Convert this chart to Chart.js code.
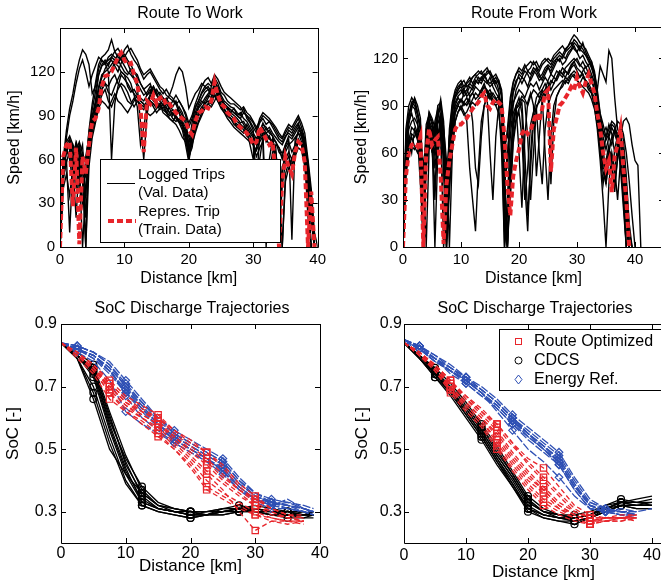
<!DOCTYPE html>
<html lang="en">
<head>
<meta charset="UTF-8">
<title>Route speed profiles and SoC trajectories</title>
<script src="https://cdn.jsdelivr.net/npm/chart.js"></script>
<style>
  body { margin: 0; background: #fff; overflow: hidden; width: 661px; height: 586px; position: relative; }
  canvas { position: absolute; }
  #toWork { left: 0; top: 0; }
  #fromWork { left: 330px; top: 0; }
  #socTo { left: 0; top: 290px; }
  #socFrom { left: 330px; top: 290px; }
</style>
</head>
<body>
<canvas id="toWork" width="330" height="290"></canvas>
<canvas id="fromWork" width="340" height="290"></canvas>
<canvas id="socTo" width="330" height="296"></canvas>
<canvas id="socFrom" width="360" height="296"></canvas>
<script>
// ---- tick labels ----
const distTicks = [0, 10, 20, 30, 40];
const speedTicks = [0, 30, 60, 90, 120];
const socTicks = [0.3, 0.5, 0.7, 0.9];

// ---- speed profiles, route to work (km, km/h) ----
const distTo = [0,0.5,1,1.5,2,2.5,3,3.5,4,4.5, 5,5.5,6,6.5,7,7.5,8,8.5,9,9.5,
  10,10.5,11,11.5,12,12.5,13,13.5,14,14.5, 15,15.5,16,16.5,17,17.5,18,18.5,19,19.5,
  20,20.5,21,21.5,22,22.5,23,23.5,24,24.5, 25,25.5,26,26.5,27,27.5,28,28.5,29,29.5,
  30,30.5,31,31.5,32,32.5,33,33.5,34,34.5, 35,35.5,36,36.5,37,37.5,38,38.5,39,39.5, 40];

const repTo = [0,62,70,72,28,68,2,62,50,70, 86,88,95,110,117,118,120,125,130,133,
  128,125,126,118,112,95,65,100,98,104, 98,102,103,97,98,95,92,90,88,86,
  80,77,86,92,93,96,95,100,113,104, 98,96,92,90,88,84,82,80,78,75,
  70,72,82,78,74,70,72,48,0,45, 62,55,50,65,72,70,58,0,38,0];

const tripTo1 = [0,55,68,60,70,62,40,65,0,72, 90,100,118,125,128,124,130,128,126,130,
  132,128,125,120,118,112,108,110,112,105, 108,104,100,102,98,96,100,94,90,88,
  70,85,95,100,105,108,110,106,112,110, 104,100,98,96,95,92,90,95,88,85,
  80,40,78,85,80,82,78,75,72,70, 75,80,78,82,85,75,70,55,30,0];
const tripTo2 = [0,60,80,95,105,118,128,135,132,125, 105,110,122,128,126,120,60,98,110,118,
  115,112,108,105,102,100,98,96,100,98, 95,98,92,90,88,86,84,80,75,72,
  65,70,78,85,90,95,98,100,105,100, 95,92,88,85,82,80,78,76,74,72,
  70,62,68,72,0,50,65,70,68,60, 65,70,72,75,78,72,65,40,0];
const tripTo3 = [0,45,60,10,55,70,55,0,40,65, 80,92,100,108,112,110,115,118,112,110,
  105,100,98,102,100,96,94,98,100,96, 92,95,98,93,90,92,88,85,80,70,
  58,75,88,95,98,102,105,108,104,100, 96,94,92,90,88,86,84,82,80,76,
  72,5,60,75,78,75,72,68,30,55, 60,65,60,68,74,70,60,45,20,0];
const tripTo4 = [0,50,65,70,60,72,66,50,55,80, 98,112,125,130,132,135,142,134,130,128,
  135,138,132,128,125,120,115,118,120,116, 112,108,105,108,104,102,98,100,96,92,
  85,90,98,104,110,114,116,112,118,115, 110,106,104,102,100,98,96,92,90,88,
  85,80,88,92,90,88,85,82,78,75, 80,84,82,86,90,85,78,60,40,10, 0];
const tripTo5 = [0,58,72,68,50,65,70,58,62,75, 88,98,110,118,120,122,125,128,132,128,
  124,120,118,115,110,85,60,90,105,110, 106,100,102,98,95,90,94,92,86,82,
  75,80,90,96,100,98,102,110,115,108, 102,98,95,92,90,88,85,86,82,78,
  75,70,80,82,78,80,76,60,10,50, 68,72,65,70,80,78,68,50,25,0];
const tripTo6 = [0,40,50,35,55,20,60,45,0,55, 75,85,95,100,98,95,100,105,100,98,
  95,92,96,100,104,100,98,92,90,92, 95,98,94,92,96,100,98,92,85,78,
  60,72,80,86,92,95,98,96,100,105, 102,98,94,92,95,90,88,84,80,70,
  60,68,76,80,72,76,70,65,45,0, 50,58,55,62,68,66,55,35,0];
const tripTo7 = [0,50,75,90,100,112,122,128,120,110, 118,124,130,128,125,130,132,130,128,124,
  120,118,122,120,116,112,108,104,106,110, 104,106,102,100,104,110,118,123,120,110,
  95,100,105,108,112,110,108,104,110,106, 100,98,95,94,92,90,88,92,90,86,
  82,78,85,88,84,86,82,78,74,72, 76,78,76,80,84,80,72,58,35,5];
const tripTo8 = [0,62,70,74,68,40,62,70,35,68, 82,90,102,108,112,106,104,110,115,120,
  118,110,106,108,104,102,100,104,108,102, 100,96,98,95,92,88,86,88,84,76,
  62,68,82,90,94,100,104,102,108,104, 98,95,90,88,86,82,80,78,84,80,
  76,72,74,78,20,60,74,72,65,62, 70,74,5,74,78,76,66,48,22,0];
const tripTo9 = [0,52,66,72,64,58,68,60,20,62, 84,96,108,116,122,126,128,124,120,126,
  130,126,120,116,112,108,104,106,110,108, 104,100,97,100,96,94,92,96,92,84,
  66,80,92,98,102,106,108,104,110,108, 100,98,96,94,92,90,92,88,86,82,
  78,74,80,84,82,78,76,72,68,64, 70,76,74,78,82,78,70,52,28,0];
const tripTo10 = [0,48,58,66,58,70,48,30,58,64, 78,88,98,104,108,100,96,102,108,112,
  110,106,100,96,100,98,96,100,104,100, 98,94,96,92,88,86,90,86,82,74,
  64,76,86,92,96,98,100,98,104,100, 96,92,90,88,84,82,84,80,76,74,
  70,66,72,76,74,70,68,62,40,0, 45,54,60,66,72,70,62,42,18,0];
const tripTo11 = [0,60,72,76,70,66,72,64,58,78, 94,106,118,124,126,128,130,134,136,132,
  130,134,136,132,128,122,118,120,122,118, 114,110,108,104,102,100,104,100,96,90,
  82,88,96,100,106,110,112,110,116,112, 106,104,100,98,98,96,94,96,92,90,
  86,82,86,90,88,86,84,80,76,74, 78,82,80,84,88,82,74,56,32,0];
const tripTo12 = [0,56,66,62,40,60,66,52,48,66, 84,92,104,112,116,118,122,126,124,120,
  118,116,112,104,96,70,82,96,100,98, 96,98,100,96,92,94,90,86,84,80,
  68,74,84,90,94,96,98,102,110,102, 96,94,90,88,86,84,82,82,80,76,
  72,70,78,80,76,74,72,56,5,42, 58,62,56,64,72,70,60,20,0];

// ---- speed profiles, route from work ----
const distFrom = [0,0.5,1,1.5,2,2.5,3,3.5,4,4.5, 5,5.5,6,6.5,7,7.5,8,8.5,9,9.5,
  10,10.5,11,11.5,12,12.5,13,13.5,14,14.5, 15,15.5,16,16.5,17,17.5,18,18.5,19,19.5,
  20,20.5,21,21.5,22,22.5,23,23.5,24,24.5, 25,25.5,26,26.5,27,27.5,28,28.5,29,29.5,
  30,30.5,31,31.5,32,32.5,33,33.5,34,34.5, 35,35.5,36,36.5,37,37.5,38,38.5,39,39.5,
  40,40.5,41];

const repFrom = [0,45,60,65,66,64,70,0,60,75, 65,68,70,45,2,40,55,65,75,78,
  78,80,82,85,88,90,92,96,98,90, 88,92,94,92,90,70,40,20,45,55,
  62,72,75,72,74,80,85,80,88,98, 100,48,75,82,90,92,95,98,102,100,
  108,102,98,105,110,104,98,85,75,60, 50,55,35,58,65,75,50,30,0];

const tripFrom1 = [0,70,85,90,88,80,60,0,70,82, 60,80,88,75,0,20,65,85,95,98,
  100,96,98,102,100,104,108,106,110,105, 102,104,106,100,80,0,30,70,90,100,
  104,108,106,102,108,112,110,106,108,112, 115,110,114,118,120,116,118,122,125,128,
  124,120,122,118,115,110,105,90,75,65, 40,60,70,75,72,68,50,20,0];
const tripFrom2 = [0,60,75,80,82,78,72,20,55,70, 75,50,70,82,60,0,50,78,90,95,
  92,98,100,96,98,102,100,98,102,100, 96,92,90,85,70,40,60,80,92,96,
  100,98,95,100,104,102,105,100,104,108, 105,100,104,108,112,110,114,116,118,120,
  118,115,118,114,116,118,110,100,115,110, 105,125,120,95,75,70,80,82,78,65, 55,52,0];
const tripFrom3 = [0,55,70,60,75,70,40,5,65,78, 70,0,60,80,65,10,40,70,85,90,
  88,92,95,90,94,98,96,100,104,98, 94,98,95,90,60,0,20,55,80,90,
  95,85,40,10,60,85,95,98,100,96, 100,104,108,112,110,108,112,110,114,116,
  112,108,110,104,100,98,92,80,60,40, 55,65,45,62,70,60,35,0];
const tripFrom4 = [0,75,90,95,92,85,78,30,70,85, 80,72,90,92,70,30,75,92,100,104,
  106,102,105,108,104,108,110,112,108,112, 110,106,108,104,95,60,75,95,105,110,
  114,112,116,112,114,118,115,112,116,118, 120,118,122,124,126,128,125,128,132,135,
  133,130,128,126,122,118,112,100,85,78, 70,75,80,78,70,55,30,0];
const tripFrom5 = [0,50,65,72,70,75,65,0,60,72, 68,60,75,70,20,0,45,72,86,90,
  94,90,92,95,98,94,96,100,102,98, 100,96,94,96,88,30,0,40,75,88,
  92,96,94,90,96,100,98,95,100,104, 100,40,80,96,100,104,108,106,110,112,
  110,108,112,115,110,106,100,88,70,55, 45,62,55,35,58,70,62,40,10,0];
const tripFrom6 = [0,65,80,85,78,72,50,10,75,80, 72,30,78,85,50,5,60,80,92,96,
  98,100,96,98,102,106,104,108,106,104, 108,102,98,95,85,10,0,50,85,90,
  60,25,70,92,98,90,45,70,95,100, 106,110,108,106,110,114,112,110,115,118,
  120,116,114,110,112,108,100,92,80,60, 70,78,72,60,72,76,68,45,15,0];
const tripFrom7 = [0,58,78,88,95,90,82,40,78,84, 78,70,84,94,80,40,70,88,96,100,
  104,106,102,104,108,110,106,104,108,110, 112,108,104,106,100,70,50,80,98,104,
  110,108,112,110,106,110,114,110,106,110, 114,112,116,120,118,122,120,124,126,130,
  128,125,130,124,120,115,108,95,82,72, 76,70,65,74,80,78,72,60,42,20, 0];
const tripFrom8 = [0,48,62,70,64,60,68,55,0,62, 74,66,58,72,76,55,0,60,80,86,
  90,86,80,50,30,10,50,80,90,95, 60,30,70,90,92,50,0,35,70,82,
  88,92,60,20,50,80,90,92,96,60, 30,70,90,96,100,102,106,104,108,110,
  106,104,108,106,102,98,90,75,55,30, 0,40,60,50,30,55,45,20,0];
const tripFrom9 = [0,62,82,92,90,84,74,20,66,80, 76,64,82,90,74,20,62,86,96,100,
  102,98,100,104,102,106,104,108,110,106, 104,106,102,98,90,40,55,85,100,106,
  108,104,108,112,110,114,112,108,110,114, 116,114,118,120,122,120,124,126,128,132,
  130,126,124,122,118,114,108,96,80,70, 62,70,76,72,66,58,40,10,0];
const tripFrom10 = [0,52,68,76,74,68,58,0,52,68, 72,58,66,80,62,5,50,76,88,92,
  94,92,90,94,80,50,40,70,90,96, 98,94,92,94,86,20,0,45,78,88,
  90,94,92,70,30,60,88,94,98,100, 102,106,104,108,112,110,108,112,116,118,
  114,112,110,106,104,100,94,82,66,50, 50,62,58,48,64,72,60,38,5,0];
const tripFrom11 = [0,68,84,92,94,86,76,35,72,86, 82,76,86,90,72,35,70,90,98,102,
  104,100,104,106,108,110,112,110,112,114, 110,108,110,106,98,65,70,92,104,110,
  112,110,114,116,118,116,118,114,118,120, 118,116,120,122,124,122,126,128,130,126,
  124,128,126,122,120,116,110,98,84,74, 68,72,78,76,66,50,25,0];
const tripFrom12 = [0,46,58,64,62,66,60,10,50,64, 62,40,62,76,58,0,35,64,80,86,
  88,84,86,90,92,90,94,96,98,94, 96,92,90,92,84,40,10,30,66,80,
  86,70,30,50,78,86,88,60,40,75, 90,96,100,102,104,106,104,108,110,108,
  106,104,102,100,98,94,88,78,64,48, 40,56,50,40,56,66,56,32,0];

// ---- SoC trajectories (km, -) ----
const socDistTo = [0,2.5,5,7.5,10,12.5,15,17.5,20,22.5,25,27.5,30,32.5,35,37.5,39];
const socDistFrom = [0,2.5,5,7.5,10,12.5,15,17.5,20,22.5,25,27.5,30,32.5,35,37.5,40];

const optTo = [
  [.84,.80,.76,.69,.64,.61,.58,.53,.48,.43,.39,.35,.32,.29,.28,.28],
  [.84,.80,.75,.68,.63,.60,.56,.51,.46,.40,.36,.33,.30,.28,.27,.27],
  [.84,.81,.77,.71,.66,.63,.60,.55,.51,.47,.42,.37,.34,.31,.29,.29],
  [.84,.80,.76,.70,.65,.62,.59,.54,.49,.45,.40,.36,.32,.30,.28,.27],
  [.84,.79,.74,.66,.62,.58,.54,.50,.45,.38,.35,.32,.29,.27,.27,.26],
  [.84,.81,.77,.72,.67,.64,.61,.56,.52,.49,.44,.38,.34,.31,.29,.28],
  [.84,.80,.76,.69,.64,.60,.57,.52,.47,.42,.37,.30,.24,.27,.26,.27],
  [.84,.81,.76,.70,.65,.61,.58,.54,.50,.46,.41,.37,.33,.30,.28,.27],
  [.84,.80,.75,.68,.62,.59,.55,.50,.44,.37,.34,.31,.29,.28,.27,.27],
  [.84,.80,.76,.71,.66,.62,.60,.56,.53,.49,.45,.39,.35,.31,.29,.28]
];
const cdcsTo = [
  [.84,.80,.75,.58,.44,.33,.31,.30,.29,.29,.30,.31,.30,.29,.29,.29,.29],
  [.84,.80,.76,.60,.46,.35,.31,.30,.29,.30,.30,.31,.30,.30,.29,.29,.29],
  [.84,.79,.68,.52,.39,.32,.30,.29,.28,.29,.29,.30,.30,.29,.28,.28,.29],
  [.84,.80,.74,.57,.43,.34,.31,.30,.29,.29,.30,.31,.31,.30,.29,.29,.29],
  [.84,.81,.77,.62,.48,.37,.32,.31,.30,.30,.31,.31,.30,.30,.30,.29,.30],
  [.84,.79,.66,.50,.42,.36,.32,.30,.29,.29,.30,.31,.31,.30,.29,.29,.29],
  [.84,.80,.75,.59,.47,.38,.33,.31,.30,.30,.31,.31,.32,.31,.30,.30,.29],
  [.84,.80,.73,.56,.42,.33,.31,.30,.30,.29,.30,.30,.31,.30,.29,.30,.29],
  [.84,.79,.70,.54,.40,.32,.30,.29,.28,.29,.29,.30,.30,.29,.29,.28,.28],
  [.84,.80,.76,.61,.45,.36,.32,.31,.30,.29,.31,.32,.31,.30,.30,.29,.30]
];
const refTo = [
  [.84,.82,.80,.76,.70,.64,.58,.54,.51,.48,.45,.39,.35,.33,.32,.31,.30],
  [.84,.83,.81,.77,.71,.65,.59,.55,.52,.49,.46,.40,.36,.33,.31,.30,.29],
  [.84,.82,.79,.74,.68,.62,.57,.53,.50,.47,.44,.38,.34,.32,.31,.30,.29],
  [.84,.81,.78,.72,.62,.58,.55,.52,.49,.46,.42,.37,.33,.31,.31,.30,.30],
  [.84,.83,.81,.78,.72,.66,.60,.56,.53,.50,.47,.41,.36,.34,.33,.32,.31],
  [.84,.82,.80,.75,.69,.63,.58,.53,.50,.47,.43,.37,.34,.33,.32,.30,.29],
  [.84,.82,.80,.76,.67,.60,.56,.52,.49,.46,.44,.38,.34,.32,.34,.31,.30],
  [.84,.82,.80,.75,.69,.64,.58,.54,.51,.48,.45,.39,.35,.33,.32,.31,.30],
  [.84,.83,.81,.77,.70,.65,.60,.55,.52,.49,.46,.40,.35,.33,.32,.31,.30],
  [.84,.82,.79,.75,.68,.63,.57,.53,.50,.47,.43,.38,.34,.32,.33,.31,.30]
];

const optFrom = [
  [.84,.80,.76,.70,.64,.59,.53,.46,.40,.36,.31,.29,.27,.28,.28,.28],
  [.84,.81,.77,.72,.66,.61,.56,.49,.43,.38,.33,.30,.28,.28,.28,.29],
  [.84,.80,.75,.69,.63,.58,.51,.44,.38,.33,.30,.28,.26,.27,.28,.27],
  [.84,.81,.77,.71,.66,.62,.57,.51,.46,.41,.36,.31,.28,.27,.27,.28],
  [.84,.80,.75,.68,.62,.57,.50,.43,.37,.32,.29,.27,.26,.27,.27,.28],
  [.84,.81,.76,.70,.65,.60,.54,.47,.41,.37,.32,.29,.27,.28,.28,.29],
  [.84,.80,.76,.71,.67,.63,.58,.52,.47,.44,.38,.32,.29,.28,.28,.28],
  [.84,.80,.76,.70,.65,.60,.55,.48,.42,.37,.32,.29,.27,.27,.28,.28],
  [.84,.81,.76,.69,.64,.59,.52,.45,.39,.34,.31,.28,.26,.28,.28,.28],
  [.84,.80,.77,.72,.67,.62,.58,.52,.45,.40,.35,.30,.28,.28,.29,.29]
];
const cdcsFrom = [
  [.84,.79,.74,.69,.62,.55,.47,.40,.32,.29,.28,.28,.29,.31,.33,.32,.32],
  [.84,.80,.75,.70,.64,.57,.49,.42,.34,.30,.29,.28,.29,.31,.33,.33,.34],
  [.84,.79,.73,.67,.60,.53,.45,.38,.30,.28,.27,.27,.28,.30,.32,.31,.31],
  [.84,.80,.75,.69,.63,.56,.48,.41,.33,.30,.29,.28,.29,.32,.34,.33,.33],
  [.84,.79,.73,.68,.61,.54,.46,.38,.31,.28,.27,.26,.28,.30,.32,.32,.32],
  [.84,.80,.76,.71,.65,.58,.51,.43,.35,.31,.29,.29,.30,.32,.33,.34,.35],
  [.84,.79,.74,.68,.62,.55,.47,.39,.31,.29,.28,.27,.28,.30,.32,.32,.32],
  [.84,.80,.74,.69,.63,.56,.48,.41,.33,.30,.28,.28,.29,.31,.33,.32,.33],
  [.84,.79,.74,.68,.61,.54,.46,.39,.31,.29,.28,.27,.28,.31,.33,.33,.32],
  [.84,.80,.75,.70,.64,.57,.50,.42,.34,.30,.29,.28,.29,.31,.32,.31,.31]
];
const refFrom = [
  [.85,.82,.78,.75,.72,.68,.64,.59,.54,.50,.46,.38,.32,.30,.30,.29],
  [.85,.83,.80,.76,.73,.69,.65,.60,.56,.52,.48,.40,.33,.31,.30,.29],
  [.85,.82,.79,.74,.71,.67,.63,.58,.53,.49,.45,.37,.31,.30,.29,.29],
  [.85,.82,.78,.75,.72,.68,.62,.56,.50,.46,.41,.35,.31,.30,.31,.30],
  [.84,.83,.79,.76,.73,.70,.66,.61,.57,.53,.49,.41,.34,.31,.30,.30],
  [.85,.82,.79,.75,.71,.67,.64,.59,.55,.51,.47,.39,.32,.30,.29,.28],
  [.85,.83,.80,.77,.73,.69,.65,.60,.55,.51,.46,.38,.33,.31,.30,.30,.31],
  [.85,.82,.79,.75,.72,.68,.64,.59,.55,.51,.47,.39,.32,.30,.30,.29],
  [.85,.83,.79,.76,.72,.69,.65,.60,.55,.50,.46,.38,.32,.31,.30,.29],
  [.84,.82,.78,.75,.72,.68,.63,.58,.54,.50,.45,.37,.31,.30,.29,.29]
];

// which samples carry a marker (index into the SoC distance grid)
const optMarks = [3, 6, 9, 12];
const cdcsMarks = [2, 5, 8, 11, 14];
const refMarks = [1, 4, 7, 10, 13];

// ---- styling ----
const RED = '#e8252b';
const BLUE = '#2f50b4';
const FONT = '"Liberation Sans", Arial, Helvetica, sans-serif';

Chart.defaults.font.family = FONT;
Chart.defaults.color = '#000';

function drawTripLegend(ctx) {
  ctx.fillStyle = '#fff';
  ctx.fillRect(100, 159, 181, 84);
  ctx.strokeStyle = '#000';
  ctx.lineWidth = 1;
  ctx.strokeRect(100.5, 159.5, 180, 83);
  ctx.beginPath();
  ctx.moveTo(107, 183.5);
  ctx.lineTo(135, 183.5);
  ctx.stroke();
  ctx.strokeStyle = RED;
  ctx.lineWidth = 4;
  ctx.setLineDash([6, 3]);
  ctx.beginPath();
  ctx.moveTo(108, 221);
  ctx.lineTo(136, 221);
  ctx.stroke();
  ctx.setLineDash([]);
  ctx.fillStyle = '#000';
  ctx.font = '15px ' + FONT;
  ctx.textAlign = 'left';
  ctx.textBaseline = 'middle';
  ctx.fillText('Logged Trips', 138, 175);
  ctx.fillText('(Val. Data)', 138, 193);
  ctx.fillText('Repres. Trip', 138, 212);
  ctx.fillText('(Train. Data)', 138, 230);
}

function drawStrategyLegend(ctx) {
  ctx.fillStyle = '#fff';
  ctx.fillRect(169, 39, 200, 62);
  ctx.strokeStyle = '#000';
  ctx.lineWidth = 1;
  ctx.strokeRect(169.5, 39.5, 200, 61);
  ctx.strokeStyle = RED;
  ctx.strokeRect(185.5, 48.5, 6, 6);
  ctx.strokeStyle = '#000';
  ctx.beginPath();
  ctx.arc(188.5, 70.5, 3.5, 0, Math.PI * 2);
  ctx.stroke();
  ctx.strokeStyle = BLUE;
  ctx.beginPath();
  ctx.moveTo(188.5, 85);
  ctx.lineTo(192, 89.5);
  ctx.lineTo(188.5, 94);
  ctx.lineTo(185, 89.5);
  ctx.closePath();
  ctx.stroke();
  ctx.fillStyle = '#000';
  ctx.font = '16px ' + FONT;
  ctx.textAlign = 'left';
  ctx.textBaseline = 'middle';
  ctx.fillText('Route Optimized', 204, 52);
  ctx.fillText('CDCS', 204, 71);
  ctx.fillText('Energy Ref.', 204, 90);
}

const legends = { trips: drawTripLegend, strategies: drawStrategyLegend };

// box around the axes, inward tick marks, panel title and legend
const framePlugin = {
  id: 'frame',
  afterDatasetsDraw(chart, args, opts) {
    const { ctx, chartArea: a, scales: { x, y } } = chart;
    ctx.save();
    ctx.strokeStyle = '#000';
    ctx.lineWidth = 1;
    ctx.beginPath();
    ctx.rect(Math.round(a.left) + 0.5, Math.round(a.top) + 0.5, Math.round(a.width), Math.round(a.height));
    const len = 5;
    x.ticks.forEach(t => {
      const px = Math.round(x.getPixelForValue(t.value)) + 0.5;
      ctx.moveTo(px, a.bottom); ctx.lineTo(px, a.bottom - len);
      ctx.moveTo(px, a.top); ctx.lineTo(px, a.top + len);
    });
    y.ticks.forEach(t => {
      const py = Math.round(y.getPixelForValue(t.value)) + 0.5;
      ctx.moveTo(a.left, py); ctx.lineTo(a.left + len, py);
      ctx.moveTo(a.right, py); ctx.lineTo(a.right - len, py);
    });
    ctx.stroke();
    ctx.fillStyle = '#000';
    ctx.font = '16px ' + FONT;
    ctx.textAlign = 'center';
    ctx.textBaseline = 'middle';
    ctx.fillText(opts.title, opts.titleX, opts.titleY);
    if (opts.legend) legends[opts.legend](ctx);
    ctx.restore();
  }
};

function axis(o) {
  return {
    type: 'linear',
    min: o.min,
    max: o.max,
    grid: { display: false, drawTicks: false },
    border: { display: false },
    afterBuildTicks: s => { s.ticks = o.ticks.map(v => ({ value: v })); },
    afterFit: s => {
      if (o.width) s.width = o.width;
      if (o.height) s.height = o.height;
    },
    ticks: {
      autoSkip: false,
      maxRotation: 0,
      padding: o.tickPad,
      color: '#000',
      font: { size: o.tickSize },
      callback: o.fmt || (v => String(v))
    },
    title: { display: true, text: o.title, color: '#000', font: { size: o.titleSize || 16 }, padding: o.titlePad }
  };
}

function points(dist, arr) {
  return arr.map((v, i) => ({ x: dist[i], y: v }));
}

function speedSets(dist, rep, trips) {
  const sets = [{
    data: points(dist, rep), borderColor: RED, borderWidth: 4, borderDash: [6, 3],
    pointRadius: 0, order: 0
  }];
  trips.forEach(t => sets.push({
    data: points(dist, t), borderColor: '#000', borderWidth: 1.4, pointRadius: 0, order: 1
  }));
  return sets;
}

function socSets(dist, groups) {
  const sets = [];
  groups.forEach(g => {
    g.trips.forEach(t => sets.push({
      data: points(dist, t),
      borderColor: g.color,
      borderWidth: 1.3,
      borderDash: g.dash,
      pointStyle: g.style,
      pointRadius: c => (g.marks.includes(c.dataIndex) ? g.radius : 0),
      pointBorderColor: g.color,
      pointBackgroundColor: 'rgba(0,0,0,0)',
      pointBorderWidth: 1.2,
      order: g.order
    }));
  });
  return sets;
}

function makeChart(id, datasets, scales, padding, frame) {
  return new Chart(document.getElementById(id), {
    type: 'line',
    data: { datasets },
    options: {
      responsive: false,
      animation: false,
      devicePixelRatio: 1,
      events: [],
      layout: { padding },
      elements: { line: { tension: 0 } },
      plugins: { legend: { display: false }, tooltip: { enabled: false }, frame },
      scales
    },
    plugins: [framePlugin]
  });
}

makeChart('toWork',
  speedSets(distTo, repTo, [tripTo1, tripTo2, tripTo3, tripTo4, tripTo5, tripTo6,
    tripTo7, tripTo8, tripTo9, tripTo10, tripTo11, tripTo12]),
  {
    x: axis({ min: 0, max: 40, ticks: distTicks, height: 43, tickPad: 4, tickSize: 15,
      title: 'Distance [km]', titlePad: { top: 0, bottom: 2 } }),
    y: axis({ min: 0, max: 150, ticks: speedTicks, width: 60, tickPad: 5, tickSize: 15,
      title: 'Speed [km/h]', titlePad: { top: 5, bottom: 0 } })
  },
  { top: 28, right: 10, left: 0, bottom: 0 },
  { title: 'Route To Work', titleX: 190, titleY: 14, legend: 'trips' });

makeChart('fromWork',
  speedSets(distFrom, repFrom, [tripFrom1, tripFrom2, tripFrom3, tripFrom4, tripFrom5, tripFrom6,
    tripFrom7, tripFrom8, tripFrom9, tripFrom10, tripFrom11, tripFrom12]),
  {
    x: axis({ min: 0, max: 45, ticks: distTicks, height: 43, tickPad: 4, tickSize: 15,
      title: 'Distance [km]', titlePad: { top: 0, bottom: 2 } }),
    y: axis({ min: 0, max: 140, ticks: speedTicks, width: 73, tickPad: 5, tickSize: 15,
      title: 'Speed [km/h]', titlePad: { top: 22, bottom: 0 } })
  },
  { top: 27, right: 6, left: 0, bottom: 0 },
  { title: 'Route From Work', titleX: 204, titleY: 14, legend: null });

const socFmt = v => v.toFixed(1);

makeChart('socTo',
  socSets(socDistTo, [
    { trips: cdcsTo, color: '#000', dash: [], style: 'circle', marks: cdcsMarks, radius: 3.5, order: 3 },
    { trips: refTo, color: BLUE, dash: [8, 2], style: 'rectRot', marks: refMarks, radius: 3.8, order: 2 },
    { trips: optTo, color: RED, dash: [5, 3], style: 'rect', marks: optMarks, radius: 4.5, order: 1 }
  ]),
  {
    x: axis({ min: 0, max: 40, ticks: distTicks, height: 43, tickPad: 1, tickSize: 16,
      title: 'Distance [km]', titleSize: 17, titlePad: { top: 0, bottom: 9 } }),
    y: axis({ min: 0.2, max: 0.9, ticks: socTicks, width: 61, tickPad: 4, tickSize: 16, fmt: socFmt,
      title: 'SoC [-]', titleSize: 17, titlePad: { top: 3, bottom: 0 } })
  },
  { top: 34, right: 10, left: 0, bottom: 0 },
  { title: 'SoC Discharge Trajectories', titleX: 192, titleY: 19, legend: null });

makeChart('socFrom',
  socSets(socDistFrom, [
    { trips: cdcsFrom, color: '#000', dash: [], style: 'circle', marks: cdcsMarks, radius: 3.5, order: 3 },
    { trips: refFrom, color: BLUE, dash: [8, 2], style: 'rectRot', marks: refMarks, radius: 3.8, order: 2 },
    { trips: optFrom, color: RED, dash: [5, 3], style: 'rect', marks: optMarks, radius: 4.5, order: 1 }
  ]),
  {
    x: axis({ min: 0, max: 45, ticks: distTicks, height: 43, tickPad: 3, tickSize: 16,
      title: 'Distance [km]', titleSize: 17, titlePad: { top: 0, bottom: 3 } }),
    y: axis({ min: 0.2, max: 0.9, ticks: socTicks, width: 74, tickPad: 2, tickSize: 16, fmt: socFmt,
      title: 'SoC [-]', titleSize: 17, titlePad: { top: 22, bottom: 0 } })
  },
  { top: 34, right: 7, left: 0, bottom: 0 },
  { title: 'SoC Discharge Trajectories', titleX: 205, titleY: 19, legend: 'strategies' });
</script>
</body>
</html>
